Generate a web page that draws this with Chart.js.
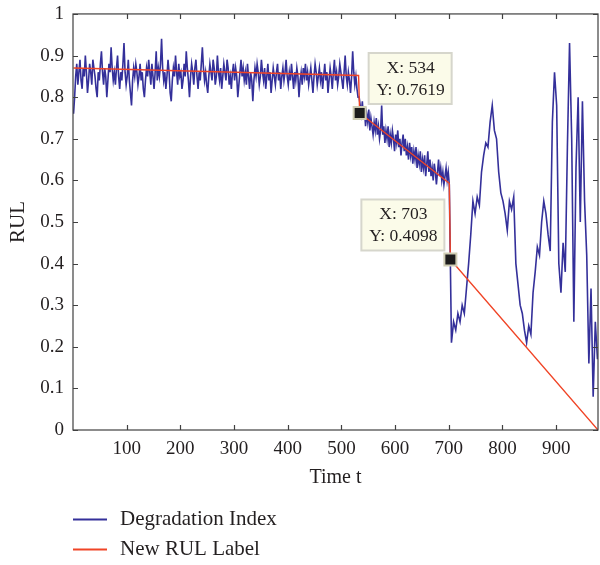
<!DOCTYPE html>
<html>
<head>
<meta charset="utf-8">
<script src="https://cdn.jsdelivr.net/npm/chart.js@4.4.1/dist/chart.umd.min.js"></script>
<style>
  html, body { margin: 0; padding: 0; background: #fff; }
  canvas { display: block; }
</style>
</head>
<body>
<canvas id="rulChart" width="600" height="565"></canvas>
<script>
// degradation index, steady phase: t = 1, 3, ... 531
var earlyIndex = [
  0.76,0.80,0.85,0.88,0.83,0.86,0.89,0.84,0.82,0.87,0.85,0.90,0.86,0.81,0.84,0.88,0.86,0.83,0.89,0.87,
  0.85,0.82,0.80,0.86,0.84,0.88,0.91,0.86,0.83,0.87,0.85,0.80,0.84,0.88,0.86,0.92,0.87,0.84,0.86,0.83,
  0.87,0.90,0.85,0.82,0.86,0.84,0.88,0.93,0.86,0.83,0.85,0.89,0.84,0.81,0.78,0.84,0.87,0.85,0.88,0.86,
  0.83,0.85,0.88,0.84,0.86,0.82,0.80,0.84,0.87,0.85,0.89,0.86,0.83,0.88,0.85,0.82,0.86,0.91,0.84,0.87,
  0.85,0.88,0.94,0.87,0.84,0.86,0.82,0.85,0.89,0.86,0.81,0.79,0.84,0.87,0.85,0.90,0.86,0.83,0.88,0.85,
  0.86,0.82,0.84,0.88,0.85,0.91,0.87,0.84,0.80,0.85,0.88,0.86,0.83,0.87,0.89,0.85,0.82,0.86,0.84,0.88,
  0.92,0.87,0.84,0.86,0.83,0.81,0.85,0.88,0.86,0.84,0.89,0.87,0.83,0.85,0.90,0.86,0.84,0.87,0.82,0.85,
  0.88,0.86,0.84,0.89,0.87,0.83,0.85,0.82,0.86,0.88,0.84,0.87,0.85,0.80,0.83,0.86,0.89,0.85,0.87,0.84,
  0.86,0.83,0.88,0.85,0.82,0.86,0.84,0.79,0.84,0.87,0.85,0.88,0.86,0.83,0.85,0.89,0.86,0.84,0.87,0.82,
  0.85,0.88,0.84,0.86,0.81,0.84,0.87,0.85,0.83,0.86,0.88,0.84,0.86,0.82,0.85,0.87,0.84,0.86,0.89,0.85,
  0.83,0.86,0.84,0.88,0.85,0.82,0.86,0.84,0.87,0.85,0.80,0.84,0.86,0.83,0.87,0.85,0.88,0.84,0.86,0.83,
  0.85,0.87,0.84,0.81,0.85,0.88,0.86,0.83,0.85,0.87,0.84,0.86,0.82,0.85,0.88,0.84,0.86,0.81,0.84,0.87,
  0.85,0.82,0.86,0.89,0.84,0.86,0.83,0.85,0.88,0.86,0.84,0.82,0.86,0.90,0.85,0.83,0.86,0.84,0.81,0.85,
  0.91,0.86,0.83,0.85,0.82,0.80
];
// linear wear phase: t = 533, 535, ... 701
var midIndex = [
  0.80,0.78,0.76,0.79,0.75,0.77,0.73,0.76,0.74,0.77,
  0.72,0.75,0.73,0.71,0.74,0.72,0.75,0.71,0.73,0.70,
  0.72,0.78,0.71,0.73,0.69,0.72,0.70,0.73,0.68,0.71,
  0.69,0.72,0.70,0.67,0.71,0.69,0.72,0.68,0.70,0.66,
  0.69,0.71,0.67,0.70,0.66,0.68,0.65,0.69,0.66,0.68,
  0.64,0.67,0.65,0.68,0.63,0.66,0.64,0.67,0.62,0.65,
  0.63,0.66,0.61,0.64,0.67,0.62,0.65,0.61,0.63,0.60,
  0.64,0.62,0.59,0.62,0.65,0.61,0.63,0.60,0.62,0.59,
  0.61,0.63,0.60,0.62,0.59
];
// unstable phase: t = 705, 709, ... 977
var lateIndex = [
  0.21,0.26,0.24,0.28,0.26,0.30,0.28,0.34,0.40,0.47,0.55,0.52,0.56,0.54,0.62,0.66,0.69,0.68,0.74,0.78,0.72,0.70,
  0.62,0.57,0.55,0.52,0.48,0.55,0.53,0.56,0.40,0.35,0.30,0.28,0.24,0.21,0.25,0.23,0.33,0.38,0.44,0.42,0.50,0.55,
  0.52,0.47,0.43,0.74,0.86,0.78,0.40,0.33,0.45,0.38,0.68,0.93,0.70,0.26,0.63,0.80,0.50,0.79,0.55,0.42,0.16,0.34,
  0.08,0.26,0.17
];

// piecewise RUL label
var rulTime  = [1, 532, 534, 701, 703, 978];
var rulLabel = [0.870, 0.852, 0.7619, 0.593, 0.4098, 0];

// data tips
var tipTime  = [534, 703];
var tipValue = [0.7619, 0.4098];

var xTicks = [100, 200, 300, 400, 500, 600, 700, 800, 900];
var yTicks = [0, 0.1, 0.2, 0.3, 0.4, 0.5, 0.6, 0.7, 0.8, 0.9, 1];

var seriesNames = ['Degradation Index', 'New RUL Label'];
var seriesColors = ['#34309a', '#f04426'];

var serif = '"Liberation Serif", "DejaVu Serif", serif';
var ink = '#231f20';

function addSamples(points, values, start, step) {
  for (var i = 0; i < values.length; i++) {
    points.push({x: start + step * i, y: values[i]});
  }
}

var degradationPoints = [];
addSamples(degradationPoints, earlyIndex, 1, 2);
addSamples(degradationPoints, midIndex, 533, 2);
addSamples(degradationPoints, lateIndex, 705, 4);

var rulPoints = [];
for (var j = 0; j < rulLabel.length; j++) {
  rulPoints.push({x: rulTime[j], y: rulLabel[j]});
}

// box around the plot with inward ticks on all four sides
var framePlugin = {
  id: 'frame',
  afterDatasetsDraw: function(chart) {
    var ctx = chart.ctx, a = chart.chartArea;
    var xs = chart.scales.x, ys = chart.scales.y;
    ctx.save();
    ctx.strokeStyle = '#404040';
    ctx.lineWidth = 1.2;
    ctx.strokeRect(a.left, a.top, a.right - a.left, a.bottom - a.top);
    ctx.beginPath();
    xTicks.forEach(function(t) {
      var px = Math.round(xs.getPixelForValue(t)) + 0.5;
      ctx.moveTo(px, a.bottom); ctx.lineTo(px, a.bottom - 5);
      ctx.moveTo(px, a.top); ctx.lineTo(px, a.top + 5);
    });
    yTicks.forEach(function(t) {
      var py = Math.round(ys.getPixelForValue(t)) + 0.5;
      ctx.moveTo(a.left, py); ctx.lineTo(a.left + 5, py);
      ctx.moveTo(a.right, py); ctx.lineTo(a.right - 5, py);
    });
    ctx.stroke();
    ctx.restore();
  }
};

// data tip markers and their boxes
var tipPlugin = {
  id: 'tips',
  afterDraw: function(chart) {
    var ctx = chart.ctx;
    var xs = chart.scales.x, ys = chart.scales.y;
    var offsets = [{dx: 9, dy: -60}, {dx: -89, dy: -60}];
    ctx.save();
    for (var k = 0; k < tipTime.length; k++) {
      var px = xs.getPixelForValue(tipTime[k]);
      var py = ys.getPixelForValue(tipValue[k]);
      var bx = px + offsets[k].dx, by = py + offsets[k].dy;
      ctx.fillStyle = '#fbfbe9';
      ctx.strokeStyle = '#d6d6cc';
      ctx.lineWidth = 2;
      ctx.fillRect(bx, by, 83, 51);
      ctx.strokeRect(bx, by, 83, 51);
      ctx.fillStyle = ink;
      ctx.font = '17.5px ' + serif;
      ctx.textAlign = 'center';
      ctx.textBaseline = 'middle';
      ctx.fillText('X: ' + tipTime[k], bx + 42, by + 15);
      ctx.fillText('Y: ' + tipValue[k].toFixed(4), bx + 42, by + 37);
      ctx.fillStyle = '#1c1c1c';
      ctx.strokeStyle = '#cfcdb4';
      ctx.lineWidth = 2;
      ctx.fillRect(px - 6, py - 6, 12, 12);
      ctx.strokeRect(px - 6, py - 6, 12, 12);
    }
    ctx.restore();
  }
};

// legend stacked under the x axis
var legendPlugin = {
  id: 'stackedLegend',
  afterDraw: function(chart) {
    var ctx = chart.ctx;
    var rows = [519, 549];
    ctx.save();
    ctx.font = '21px ' + serif;
    ctx.textBaseline = 'middle';
    ctx.textAlign = 'left';
    for (var k = 0; k < seriesNames.length; k++) {
      ctx.strokeStyle = seriesColors[k];
      ctx.lineWidth = 2;
      ctx.beginPath();
      ctx.moveTo(73, rows[k] + 0.5);
      ctx.lineTo(107, rows[k] + 0.5);
      ctx.stroke();
      ctx.fillStyle = ink;
      ctx.fillText(seriesNames[k], 120, rows[k]);
    }
    ctx.restore();
  }
};

var ctx = document.getElementById('rulChart');
var chart = new Chart(ctx, {
  type: 'line',
  data: {
    datasets: [
      {
        label: seriesNames[0],
        data: degradationPoints,
        borderColor: seriesColors[0],
        borderWidth: 1.6,
        pointRadius: 0,
        tension: 0,
        order: 1
      },
      {
        label: seriesNames[1],
        data: rulPoints,
        borderColor: seriesColors[1],
        borderWidth: 1.4,
        pointRadius: 0,
        tension: 0,
        order: 0
      }
    ]
  },
  options: {
    responsive: false,
    animation: false,
    devicePixelRatio: 1,
    layout: { padding: { top: 10, right: 2, left: 0, bottom: 77 } },
    plugins: {
      legend: { display: false },
      tooltip: { enabled: false }
    },
    scales: {
      x: {
        type: 'linear',
        min: 0,
        max: 978,
        grid: { display: false, drawTicks: false },
        border: { display: false },
        afterFit: function(scale) { scale.height = 58; },
        ticks: {
          stepSize: 100,
          includeBounds: false,
          maxRotation: 0,
          padding: 10,
          color: ink,
          font: { family: serif, size: 19, lineHeight: 1.0 },
          callback: function(v) { return v === 0 ? '' : v; }
        },
        title: {
          display: true,
          text: 'Time t',
          color: ink,
          font: { family: serif, size: 20, lineHeight: 1.0 },
          padding: { top: 0, bottom: 0 }
        }
      },
      y: {
        min: 0,
        max: 1,
        grid: { display: false, drawTicks: false },
        border: { display: false },
        afterFit: function(scale) { scale.width = 73; },
        ticks: {
          stepSize: 0.1,
          padding: 9,
          color: ink,
          font: { family: serif, size: 19, lineHeight: 0.52 },
          callback: function(v) { return String(Math.round(v * 10) / 10); }
        },
        title: {
          display: true,
          text: 'RUL',
          color: ink,
          font: { family: serif, size: 21 },
          padding: { top: 6, bottom: 0 }
        }
      }
    }
  },
  plugins: [framePlugin, tipPlugin, legendPlugin]
});
</script>
</body>
</html>
